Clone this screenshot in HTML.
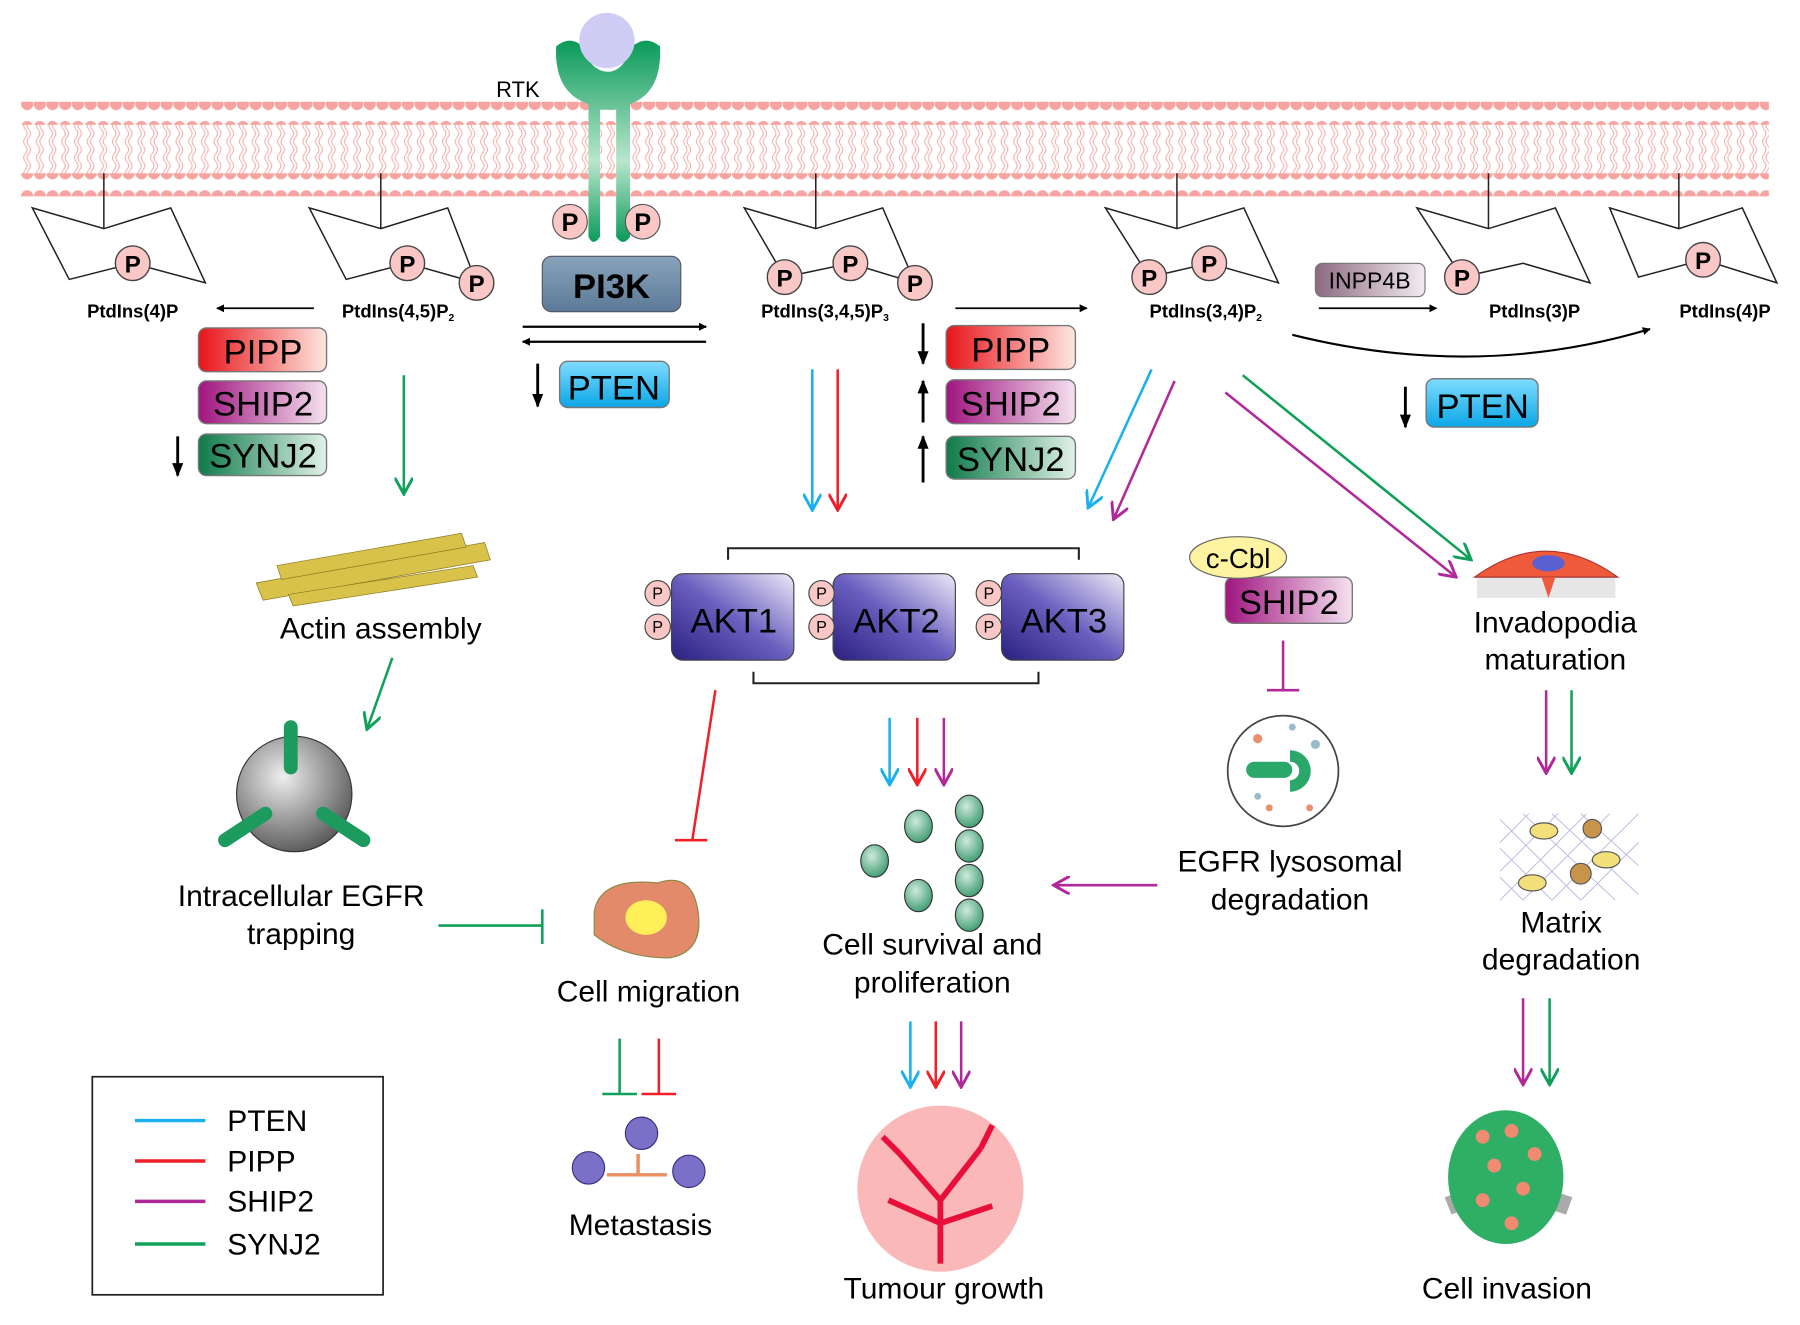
<!DOCTYPE html>
<html><head><meta charset="utf-8"><style>
html,body{margin:0;padding:0;background:#fff}
svg{display:block}
text{font-family:"Liberation Sans",sans-serif}
</style></head><body>
<svg width="1800" height="1325" viewBox="0 0 1560 1148" xmlns="http://www.w3.org/2000/svg">
<defs>
<pattern id="heads" x="18" y="0" width="11" height="20" patternUnits="userSpaceOnUse"><circle cx="5.5" cy="10" r="5.3" fill="#f7a3a0"/></pattern>
<pattern id="tails" x="18" y="0" width="11" height="14" patternUnits="userSpaceOnUse"><path d="M4 0 q3 3.5 0 7 q-3 3.5 0 7 M7 0 q3 3.5 0 7 q-3 3.5 0 7" stroke="#f4a5a2" stroke-width="0.8" fill="none"/></pattern>
<linearGradient id="gPIPP" x1="0" x2="1"><stop offset="0" stop-color="#e8141a"/><stop offset="1" stop-color="#fde7e0"/></linearGradient>
<linearGradient id="gSHIP" x1="0" x2="1"><stop offset="0" stop-color="#a0157f"/><stop offset="1" stop-color="#f5e1f0"/></linearGradient>
<linearGradient id="gSYNJ" x1="0" x2="1"><stop offset="0" stop-color="#0f7a4a"/><stop offset="1" stop-color="#e1f2e8"/></linearGradient>
<linearGradient id="gPTEN" x1="0" x2="0" y1="0" y2="1"><stop offset="0" stop-color="#7fdcff"/><stop offset="1" stop-color="#0ba6e6"/></linearGradient>
<linearGradient id="gINPP" x1="0" x2="1"><stop offset="0" stop-color="#8c6a7e"/><stop offset="1" stop-color="#f3ecf0"/></linearGradient>
<linearGradient id="gPI3K" x1="0" x2="0" y1="0" y2="1"><stop offset="0" stop-color="#8aa3bb"/><stop offset="1" stop-color="#5b7a97"/></linearGradient>
<linearGradient id="gAKT" x1="0" x2="1" y1="1" y2="0"><stop offset="0" stop-color="#2a2080"/><stop offset="0.5" stop-color="#6a5fbf"/><stop offset="1" stop-color="#eeeaf8"/></linearGradient>
<linearGradient id="gRTK" x1="0" x2="0" y1="0" y2="1"><stop offset="0" stop-color="#0a9a5a"/><stop offset="0.6" stop-color="#b8e6cc"/><stop offset="1" stop-color="#0a9a5a"/></linearGradient>
<radialGradient id="gSph" cx="0.4" cy="0.35" r="0.7"><stop offset="0" stop-color="#eee"/><stop offset="1" stop-color="#555"/></radialGradient>
<radialGradient id="gNode" cx="0.4" cy="0.35" r="0.7"><stop offset="0" stop-color="#cfeadc"/><stop offset="1" stop-color="#3a9a6e"/></radialGradient>
<marker id="aK" viewBox="0 0 10 10" refX="9" refY="5" markerWidth="7" markerHeight="7" orient="auto-start-reverse" markerUnits="userSpaceOnUse"><path d="M0 0 L10 5 L0 10 Z" fill="#000"/></marker>
<marker id="aB" viewBox="0 0 10 10" refX="9" refY="5" markerWidth="16" markerHeight="16" orient="auto" markerUnits="userSpaceOnUse"><path d="M0 0 L9 5 L0 10" fill="none" stroke="#1ab0ee" stroke-width="1.6"/></marker>
<marker id="aR" viewBox="0 0 10 10" refX="9" refY="5" markerWidth="16" markerHeight="16" orient="auto" markerUnits="userSpaceOnUse"><path d="M0 0 L9 5 L0 10" fill="none" stroke="#f0202a" stroke-width="1.6"/></marker>
<marker id="aM" viewBox="0 0 10 10" refX="9" refY="5" markerWidth="16" markerHeight="16" orient="auto" markerUnits="userSpaceOnUse"><path d="M0 0 L9 5 L0 10" fill="none" stroke="#b0289a" stroke-width="1.6"/></marker>
<marker id="aG" viewBox="0 0 10 10" refX="9" refY="5" markerWidth="16" markerHeight="16" orient="auto" markerUnits="userSpaceOnUse"><path d="M0 0 L9 5 L0 10" fill="none" stroke="#0fa05a" stroke-width="1.6"/></marker>
<marker id="bigK" viewBox="0 0 10 10" refX="9" refY="5" markerWidth="12" markerHeight="12" orient="auto" markerUnits="userSpaceOnUse"><path d="M0 1 L10 5 L0 9 Z" fill="#000"/></marker>
</defs>

<!-- membrane -->
<rect x="18" y="88" width="1515" height="20" fill="url(#heads)"/>
<rect x="18" y="150" width="1515" height="20" fill="url(#heads)"/>
<rect x="18" y="106" width="1515" height="46" fill="url(#tails)"/>

<!-- RTK -->
<path d="M482 40 Q480 80 510 90 L510 205 Q514 214 520 205 L520 95 L534 95 L534 205 Q540 214 546 205 L546 90 Q574 80 572 40 Q560 30 548 40 Q540 62 527 62 Q512 62 505 40 Q494 30 482 40 Z" fill="url(#gRTK)"/>
<circle cx="526" cy="35" r="24" fill="#cfcdf5"/>
<text x="430" y="84" font-size="19">RTK</text>
<circle cx="494" cy="192" r="15" fill="#f9c8c6" stroke="#555"/><text x="494" y="200" font-size="22" font-weight="bold" text-anchor="middle">P</text>
<circle cx="557" cy="192" r="15" fill="#f9c8c6" stroke="#555"/><text x="557" y="200" font-size="22" font-weight="bold" text-anchor="middle">P</text>
<rect x="470" y="222" width="120" height="48" rx="8" fill="url(#gPI3K)" stroke="#556"/>
<text x="530" y="258" font-size="30" font-weight="bold" text-anchor="middle">PI3K</text>
<line x1="453" y1="283" x2="612" y2="283" stroke="#000" stroke-width="2" marker-end="url(#aK)"/>
<line x1="612" y1="296" x2="453" y2="296" stroke="#000" stroke-width="2" marker-end="url(#aK)"/>

<!-- rings -->
<g fill="none" stroke="#222" stroke-width="1.3">
<path d="M28 180 L90 198 L148 180 L178 245 L115 228 L60 242 Z M90 198 L90 150"/>
<path d="M268 180 L330 198 L388 180 L413 245 L353 228 L300 242 Z M330 198 L330 150"/>
<path d="M645 180 L707 198 L765 180 L793 245 L737 228 L680 240 Z M707 198 L707 150"/>
<path d="M958 180 L1020 198 L1078 180 L1108 245 L1048 228 L996 240 Z M1020 198 L1020 150"/>
<path d="M1228 180 L1290 198 L1348 180 L1378 245 L1320 228 L1267 240 Z M1290 198 L1290 150"/>
<path d="M1395 180 L1455 198 L1510 180 L1540 245 L1476 225 L1420 240 Z M1455 198 L1455 150"/>
</g>
<g fill="#f9c8c6" stroke="#444" stroke-width="1.2">
<circle cx="115" cy="228" r="15"/><circle cx="353" cy="228" r="15"/><circle cx="413" cy="245" r="15"/>
<circle cx="680" cy="240" r="15"/><circle cx="737" cy="228" r="15"/><circle cx="793" cy="245" r="15"/>
<circle cx="996" cy="240" r="15"/><circle cx="1048" cy="228" r="15"/><circle cx="1267" cy="240" r="15"/><circle cx="1476" cy="225" r="15"/>
</g>
<g font-size="21" font-weight="bold" text-anchor="middle">
<text x="115" y="236">P</text><text x="353" y="236">P</text><text x="413" y="253">P</text>
<text x="680" y="248">P</text><text x="737" y="236">P</text><text x="793" y="253">P</text>
<text x="996" y="248">P</text><text x="1048" y="236">P</text><text x="1267" y="248">P</text><text x="1476" y="233">P</text>
</g>
<g font-size="16" font-weight="bold" text-anchor="middle">
<text x="115" y="275">PtdIns(4)P</text>
<text x="345" y="275">PtdIns(4,5)P<tspan font-size="9" dy="3">2</tspan></text>
<text x="715" y="275">PtdIns(3,4,5)P<tspan font-size="9" dy="3">3</tspan></text>
<text x="1045" y="275">PtdIns(3,4)P<tspan font-size="9" dy="3">2</tspan></text>
<text x="1330" y="275">PtdIns(3)P</text>
<text x="1495" y="275">PtdIns(4)P</text>
</g>
<line x1="272" y1="267" x2="188" y2="267" stroke="#000" stroke-width="1.5" marker-end="url(#aK)"/>
<line x1="828" y1="267" x2="942" y2="267" stroke="#000" stroke-width="1.5" marker-end="url(#aK)"/>
<line x1="1143" y1="267" x2="1245" y2="267" stroke="#000" stroke-width="1.5" marker-end="url(#aK)"/>
<path d="M1120 290 Q1280 330 1430 285" fill="none" stroke="#000" stroke-width="1.8" marker-end="url(#aK)"/>
<rect x="1140" y="228" width="95" height="29" rx="6" fill="url(#gINPP)" stroke="#777"/>
<text x="1187" y="250" font-size="20" text-anchor="middle">INPP4B</text>

<!-- enzyme boxes -->
<g stroke="#777" stroke-width="1.2">
<rect x="172" y="284" width="111" height="38" rx="7" fill="url(#gPIPP)"/>
<rect x="172" y="330" width="111" height="37" rx="7" fill="url(#gSHIP)"/>
<rect x="172" y="376" width="111" height="36" rx="7" fill="url(#gSYNJ)"/>
<rect x="820" y="282" width="112" height="38" rx="7" fill="url(#gPIPP)"/>
<rect x="820" y="329" width="112" height="38" rx="7" fill="url(#gSHIP)"/>
<rect x="820" y="378" width="112" height="37" rx="7" fill="url(#gSYNJ)"/>
<rect x="485" y="313" width="95" height="40" rx="7" fill="url(#gPTEN)"/>
<rect x="1236" y="328" width="97" height="42" rx="7" fill="url(#gPTEN)"/>
<rect x="1062" y="500" width="110" height="40" rx="7" fill="url(#gSHIP)"/>
</g>
<g font-size="30" text-anchor="middle">
<text x="228" y="315">PIPP</text><text x="228" y="360">SHIP2</text><text x="228" y="405">SYNJ2</text>
<text x="876" y="313">PIPP</text><text x="876" y="360">SHIP2</text><text x="876" y="408">SYNJ2</text>
<text x="532" y="346">PTEN</text><text x="1285" y="362">PTEN</text><text x="1117" y="532">SHIP2</text>
</g>
<g stroke="#000" stroke-width="2.5">
<line x1="154" y1="378" x2="154" y2="412" marker-end="url(#bigK)"/>
<line x1="466" y1="315" x2="466" y2="352" marker-end="url(#bigK)"/>
<line x1="800" y1="280" x2="800" y2="315" marker-end="url(#bigK)"/>
<line x1="800" y1="366" x2="800" y2="330" marker-end="url(#bigK)"/>
<line x1="800" y1="418" x2="800" y2="378" marker-end="url(#bigK)"/>
<line x1="1218" y1="335" x2="1218" y2="370" marker-end="url(#bigK)"/>
</g>

<!-- colored arrows -->
<g stroke-width="2.2" fill="none">
<line x1="350" y1="325" x2="350" y2="428" stroke="#0fa05a" marker-end="url(#aG)"/>
<line x1="704" y1="320" x2="704" y2="442" stroke="#1ab0ee" marker-end="url(#aB)"/>
<line x1="726" y1="320" x2="726" y2="442" stroke="#f0202a" marker-end="url(#aR)"/>
<line x1="998" y1="320" x2="943" y2="440" stroke="#1ab0ee" marker-end="url(#aB)"/>
<line x1="1018" y1="330" x2="965" y2="450" stroke="#b0289a" marker-end="url(#aM)"/>
<line x1="1062" y1="340" x2="1262" y2="500" stroke="#b0289a" marker-end="url(#aM)"/>
<line x1="1077" y1="325" x2="1275" y2="485" stroke="#0fa05a" marker-end="url(#aG)"/>
<line x1="340" y1="570" x2="318" y2="632" stroke="#0fa05a" marker-end="url(#aG)"/>
<line x1="771" y1="622" x2="771" y2="680" stroke="#1ab0ee" marker-end="url(#aB)"/>
<line x1="795" y1="622" x2="795" y2="680" stroke="#f0202a" marker-end="url(#aR)"/>
<line x1="818" y1="622" x2="818" y2="680" stroke="#b0289a" marker-end="url(#aM)"/>
<line x1="789" y1="885" x2="789" y2="942" stroke="#1ab0ee" marker-end="url(#aB)"/>
<line x1="811" y1="885" x2="811" y2="942" stroke="#f0202a" marker-end="url(#aR)"/>
<line x1="833" y1="885" x2="833" y2="942" stroke="#b0289a" marker-end="url(#aM)"/>
<line x1="1340" y1="598" x2="1340" y2="670" stroke="#b0289a" marker-end="url(#aM)"/>
<line x1="1362" y1="598" x2="1362" y2="670" stroke="#0fa05a" marker-end="url(#aG)"/>
<line x1="1320" y1="865" x2="1320" y2="940" stroke="#b0289a" marker-end="url(#aM)"/>
<line x1="1343" y1="865" x2="1343" y2="940" stroke="#0fa05a" marker-end="url(#aG)"/>
<line x1="1003" y1="767" x2="913" y2="767" stroke="#b0289a" marker-end="url(#aM)"/>
<!-- inhibitions -->
<path d="M1112 555 V598 M1098 598 H1126" stroke="#b0289a"/>
<path d="M380 802 H470 M470 788 V818" stroke="#0fa05a"/>
<path d="M620 598 L600 728 M585 728 H613" stroke="#f0202a"/>
<path d="M537 900 V948 M522 948 H552" stroke="#0fa05a"/>
<path d="M571 900 V948 M556 948 H586" stroke="#f0202a"/>
</g>

<!-- AKT -->
<path d="M631 485 V475 H935 V485 M653 582 V592 H900 V582" fill="none" stroke="#222" stroke-width="1.8"/>
<g stroke="#444">
<rect x="582" y="497" width="106" height="75" rx="10" fill="url(#gAKT)"/>
<rect x="722" y="497" width="106" height="75" rx="10" fill="url(#gAKT)"/>
<rect x="868" y="497" width="106" height="75" rx="10" fill="url(#gAKT)"/>
<g fill="#f9c8c6"><circle cx="570" cy="514" r="11"/><circle cx="570" cy="543" r="11"/><circle cx="712" cy="514" r="11"/><circle cx="712" cy="543" r="11"/><circle cx="857" cy="514" r="11"/><circle cx="857" cy="543" r="11"/></g>
</g>
<g font-size="14" text-anchor="middle"><text x="570" y="519">P</text><text x="570" y="548">P</text><text x="712" y="519">P</text><text x="712" y="548">P</text><text x="857" y="519">P</text><text x="857" y="548">P</text></g>
<g font-size="30" text-anchor="middle"><text x="636" y="548">AKT1</text><text x="777" y="548">AKT2</text><text x="922" y="548">AKT3</text></g>

<!-- c-Cbl -->
<ellipse cx="1073" cy="483" rx="42" ry="18" fill="#fdf3a0" stroke="#666"/>
<text x="1073" y="492" font-size="24" text-anchor="middle">c-Cbl</text>

<!-- lysosome -->
<circle cx="1112" cy="668" r="48" fill="#fff" stroke="#444" stroke-width="1.5"/>
<rect x="1080" y="660" width="40" height="14" rx="7" fill="#2aa86a"/>
<path d="M1118 650 a18 18 0 1 1 0 36 l0 -10 a8 8 0 1 0 0 -16 Z" fill="#2aa86a"/>
<g fill="#e89070"><circle cx="1090" cy="640" r="4"/><circle cx="1135" cy="700" r="3"/><circle cx="1100" cy="700" r="3"/></g>
<g fill="#9bc"><circle cx="1120" cy="630" r="3"/><circle cx="1140" cy="645" r="4"/><circle cx="1090" cy="690" r="3"/></g>
<text x="1118" y="755" font-size="26" text-anchor="middle">EGFR lysosomal</text>
<text x="1118" y="788" font-size="26" text-anchor="middle">degradation</text>

<!-- invadopodia -->
<rect x="1280" y="500" width="120" height="18" fill="#e6e6e6"/>
<path d="M1278 500 Q1340 455 1402 500 Z" fill="#ef5a3a" stroke="#a33"/>
<ellipse cx="1342" cy="488" rx="14" ry="7" fill="#5a60d0"/>
<path d="M1336 500 L1342 518 L1348 500" fill="#ef5a3a"/>
<text x="1348" y="548" font-size="26" text-anchor="middle">Invadopodia</text>
<text x="1348" y="580" font-size="26" text-anchor="middle">maturation</text>

<!-- matrix -->
<g stroke="#b8b8e0" stroke-width="0.8"><path d="M1300 710 L1370 780 M1320 705 L1400 780 M1345 705 L1420 775 M1370 705 L1420 750 M1300 735 L1345 780 M1300 760 L1320 780 M1300 780 L1375 705 M1320 780 L1395 705 M1345 780 L1420 705 M1370 780 L1420 730 M1300 755 L1350 705 M1300 730 L1325 705"/></g>
<g fill="#f3e07a" stroke="#555"><ellipse cx="1338" cy="720" rx="12" ry="7"/><ellipse cx="1392" cy="745" rx="12" ry="7"/><ellipse cx="1328" cy="765" rx="12" ry="7"/></g>
<g fill="#c8944a" stroke="#555"><circle cx="1380" cy="718" r="8"/><circle cx="1370" cy="757" r="9"/></g>
<text x="1353" y="808" font-size="26" text-anchor="middle">Matrix</text>
<text x="1353" y="840" font-size="26" text-anchor="middle">degradation</text>

<!-- invasion -->
<path d="M1255 1045 Q1305 1025 1360 1045" stroke="#aaa" stroke-width="16" fill="none"/>
<ellipse cx="1305" cy="1020" rx="50" ry="58" fill="#2fae66"/>
<g fill="#f08a70"><circle cx="1285" cy="985" r="6"/><circle cx="1310" cy="980" r="6"/><circle cx="1330" cy="1000" r="6"/><circle cx="1295" cy="1010" r="6"/><circle cx="1320" cy="1030" r="6"/><circle cx="1285" cy="1040" r="6"/><circle cx="1310" cy="1060" r="6"/></g>
<text x="1306" y="1125" font-size="26" text-anchor="middle">Cell invasion</text>

<!-- actin -->
<g fill="#d8c24a" stroke="#8a7a20" stroke-width="0.6">
<path d="M222 505 L420 470 L425 485 L228 520 Z"/><path d="M240 490 L400 462 L404 474 L244 502 Z"/><path d="M250 515 L410 490 L414 500 L254 525 Z"/>
</g>
<text x="330" y="553" font-size="26" text-anchor="middle">Actin assembly</text>

<!-- endosome -->
<circle cx="255" cy="688" r="50" fill="url(#gSph)" stroke="#333"/>
<g stroke="#1d9a5e" stroke-width="12" stroke-linecap="round" fill="none"><path d="M252 630 V665"/><path d="M195 728 L230 705"/><path d="M315 728 L280 705"/></g>
<text x="261" y="785" font-size="26" text-anchor="middle">Intracellular EGFR</text>
<text x="261" y="818" font-size="26" text-anchor="middle">trapping</text>

<!-- cell migration -->
<path d="M515 790 Q520 760 570 765 Q600 755 605 790 Q610 825 580 830 Q540 830 515 810 Z" fill="#e38a6a" stroke="#884"/>
<ellipse cx="560" cy="795" rx="18" ry="15" fill="#fff05a"/>
<text x="562" y="868" font-size="26" text-anchor="middle">Cell migration</text>

<!-- metastasis -->
<g fill="#7a70c8" stroke="#3a3080"><circle cx="510" cy="1012" r="14"/><circle cx="556" cy="982" r="14"/><circle cx="597" cy="1015" r="14"/></g>
<path d="M526 1018 H578 M553 1018 V1000" stroke="#e89060" stroke-width="3" fill="none"/>
<text x="555" y="1070" font-size="26" text-anchor="middle">Metastasis</text>

<!-- proliferation -->
<g fill="url(#gNode)" stroke="#333"><ellipse cx="758" cy="746" rx="12" ry="14"/><ellipse cx="796" cy="716" rx="12" ry="14"/><ellipse cx="796" cy="776" rx="12" ry="14"/>
<ellipse cx="840" cy="703" rx="12" ry="14"/><ellipse cx="840" cy="733" rx="12" ry="14"/><ellipse cx="840" cy="763" rx="12" ry="14"/><ellipse cx="840" cy="793" rx="12" ry="14"/></g>
<text x="808" y="827" font-size="26" text-anchor="middle">Cell survival and</text>
<text x="808" y="860" font-size="26" text-anchor="middle">proliferation</text>

<!-- tumour -->
<circle cx="815" cy="1030" r="72" fill="#fbb8b8"/>
<path d="M815 1095 L815 1040 L780 1000 M815 1040 L850 995 M815 1060 L770 1040 M815 1060 L860 1045 M780 1000 L765 985 M850 995 L860 975" stroke="#e8103a" stroke-width="5" fill="none"/>
<text x="818" y="1125" font-size="26" text-anchor="middle">Tumour growth</text>

<!-- legend -->
<rect x="80" y="933" width="252" height="189" fill="none" stroke="#222" stroke-width="1.5"/>
<g stroke-width="3"><line x1="117" y1="971" x2="178" y2="971" stroke="#1ab0ee"/><line x1="117" y1="1006" x2="178" y2="1006" stroke="#f0202a"/><line x1="117" y1="1041" x2="178" y2="1041" stroke="#b0289a"/><line x1="117" y1="1078" x2="178" y2="1078" stroke="#0fa05a"/></g>
<g font-size="26"><text x="197" y="980">PTEN</text><text x="197" y="1015">PIPP</text><text x="197" y="1050">SHIP2</text><text x="197" y="1087">SYNJ2</text></g>
</svg>
</body></html>
